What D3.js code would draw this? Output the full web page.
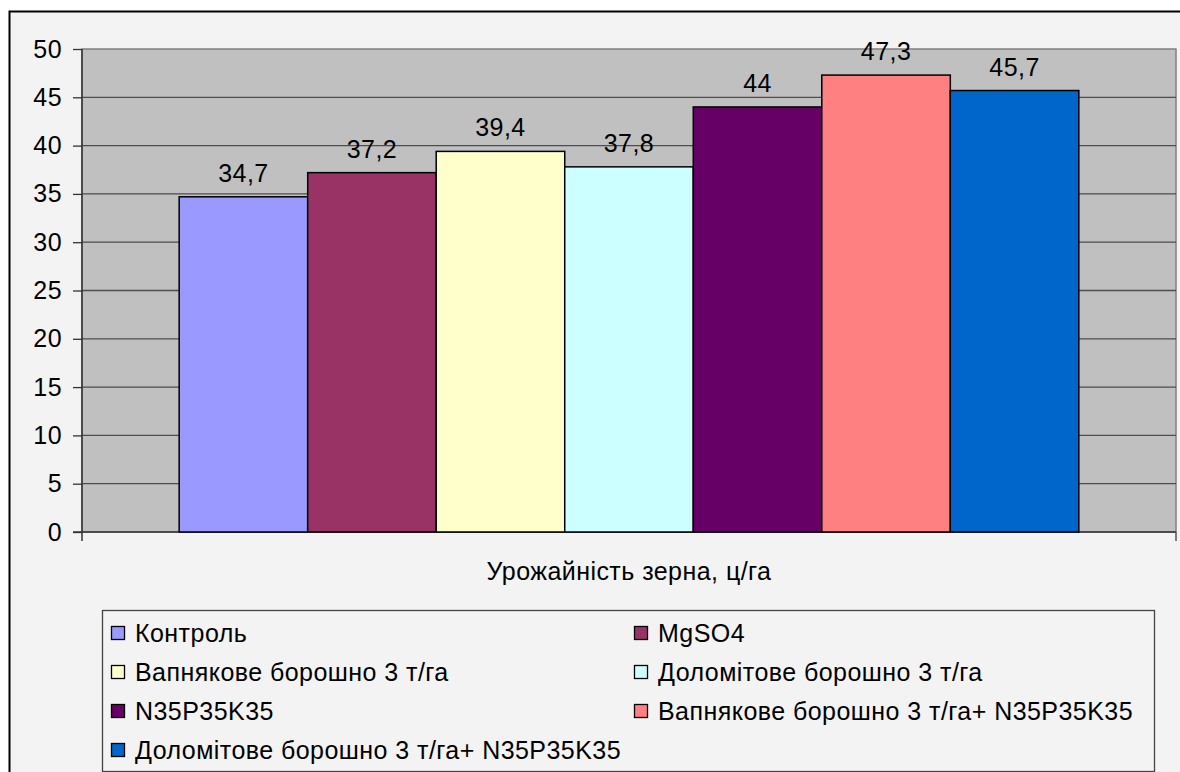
<!DOCTYPE html>
<html>
<head>
<meta charset="utf-8">
<script src="https://cdn.jsdelivr.net/npm/d3@7"></script>
<style>
  html, body { margin: 0; padding: 0; background: #ffffff; }
  svg { display: block; font-family: "Liberation Sans", Arial, sans-serif; }
  text { letter-spacing: 0.45px; }
</style>
</head>
<body>
<svg id="chart" width="1180" height="772"></svg>
<script>
// Grain yield by fertilizer treatment
const category = "Урожайність зерна, ц/га";
const seriesNames = [
  "Контроль",
  "MgSO4",
  "Вапнякове борошно 3 т/га",
  "Доломітове борошно 3 т/га",
  "N35P35K35",
  "Вапнякове борошно 3 т/га+ N35P35K35",
  "Доломітове борошно 3 т/га+ N35P35K35"
];
const seriesValues = [34.7, 37.2, 39.4, 37.8, 44, 47.3, 45.7];
const seriesColors = ["#9999ff", "#993366", "#ffffcc", "#ccffff", "#660066", "#ff8080", "#0066cc"];
const yTicks = [0, 5, 10, 15, 20, 25, 30, 35, 40, 45, 50];

const svg = d3.select("#chart");
const fontSize = 25;

// chart area background
svg.append("rect")
  .attr("x", 9.5).attr("y", 11.5)
  .attr("width", 1200).attr("height", 800)
  .attr("fill", "#f3f3f3").attr("stroke", "#000").attr("stroke-width", 2);

const plot = { left: 82, right: 1176, top: 49, bottom: 532 };

const y = d3.scaleLinear().domain([0, 50]).range([plot.bottom, plot.top]);
const xGroup = d3.scaleBand().domain([category])
  .range([plot.left, plot.right]).paddingOuter(0.108).paddingInner(0);
const xSeries = d3.scaleBand().domain(seriesNames)
  .range([0, xGroup.bandwidth()]).padding(0);

// plot background
svg.append("rect")
  .attr("x", plot.left).attr("y", plot.top)
  .attr("width", plot.right - plot.left).attr("height", plot.bottom - plot.top)
  .attr("fill", "#c0c0c0").attr("stroke", "#808080").attr("stroke-width", 1.5);

// horizontal gridlines
svg.append("g").selectAll("line")
  .data(yTicks.filter(t => t > 0 && t < 50))
  .join("line")
  .attr("x1", plot.left).attr("x2", plot.right)
  .attr("y1", d => y(d)).attr("y2", d => y(d))
  .attr("stroke", "#4d4d4d").attr("stroke-width", 1.3);

// y axis
const yAxis = d3.axisLeft(y).tickValues(yTicks).tickSize(9).tickPadding(11)
  .tickFormat(d3.format("d"));
const gy = svg.append("g").attr("transform", `translate(${plot.left},0)`).call(yAxis);
gy.select(".domain").remove();
gy.selectAll(".tick line").attr("stroke", "#333").attr("stroke-width", 1.3);
gy.selectAll(".tick text").attr("font-size", fontSize).attr("fill", "#000")
  .attr("font-family", "Liberation Sans, Arial, sans-serif");
svg.append("line")
  .attr("x1", plot.left).attr("x2", plot.left)
  .attr("y1", plot.top).attr("y2", plot.bottom + 9)
  .attr("stroke", "#333").attr("stroke-width", 1.5);

// category axis
svg.append("line")
  .attr("x1", plot.left - 9).attr("x2", plot.right)
  .attr("y1", plot.bottom).attr("y2", plot.bottom)
  .attr("stroke", "#333").attr("stroke-width", 1.5);
svg.append("line")
  .attr("x1", plot.right).attr("x2", plot.right)
  .attr("y1", plot.bottom).attr("y2", plot.bottom + 9)
  .attr("stroke", "#555").attr("stroke-width", 1.5);

// bars
const g = svg.append("g").attr("transform", `translate(${xGroup(category)},0)`);
g.selectAll("rect")
  .data(seriesNames)
  .join("rect")
  .attr("x", d => xSeries(d))
  .attr("y", (d, i) => y(seriesValues[i]))
  .attr("width", xSeries.bandwidth())
  .attr("height", (d, i) => y(0) - y(seriesValues[i]))
  .attr("fill", (d, i) => seriesColors[i])
  .attr("stroke", "#000").attr("stroke-width", 1.5);

// value labels
g.selectAll("text.value")
  .data(seriesNames)
  .join("text")
  .attr("class", "value")
  .attr("x", d => xSeries(d) + xSeries.bandwidth() / 2)
  .attr("y", (d, i) => y(seriesValues[i]) - 15)
  .attr("text-anchor", "middle")
  .attr("font-size", fontSize)
  .attr("fill", "#000")
  .text((d, i) => String(seriesValues[i]).replace(".", ","));

// category label
svg.append("text")
  .attr("x", xGroup(category) + xGroup.bandwidth() / 2)
  .attr("y", 580)
  .attr("text-anchor", "middle")
  .attr("font-size", fontSize)
  .attr("fill", "#000")
  .text(category);

// legend
const legend = { left: 102, top: 610, right: 1154, bottom: 771 };
svg.append("rect")
  .attr("x", legend.left + 0.5).attr("y", legend.top + 0.5)
  .attr("width", legend.right - legend.left).attr("height", legend.bottom - legend.top)
  .attr("fill", "#f3f3f3").attr("stroke", "#444").attr("stroke-width", 1.3);

const colX = [111, 634];
const rowY = [633, 672, 711, 750];
const items = svg.append("g").selectAll("g")
  .data(seriesNames)
  .join("g")
  .attr("transform", (d, i) => `translate(${colX[i % 2]},${rowY[Math.floor(i / 2)]})`);
items.append("rect")
  .attr("x", 0.5).attr("y", -6.5)
  .attr("width", 13).attr("height", 13)
  .attr("fill", (d, i) => seriesColors[i])
  .attr("stroke", "#000").attr("stroke-width", 1.3);
items.append("text")
  .attr("x", 24).attr("y", 9)
  .attr("font-size", fontSize)
  .attr("fill", "#000")
  .text(d => d);
</script>
</body>
</html>
